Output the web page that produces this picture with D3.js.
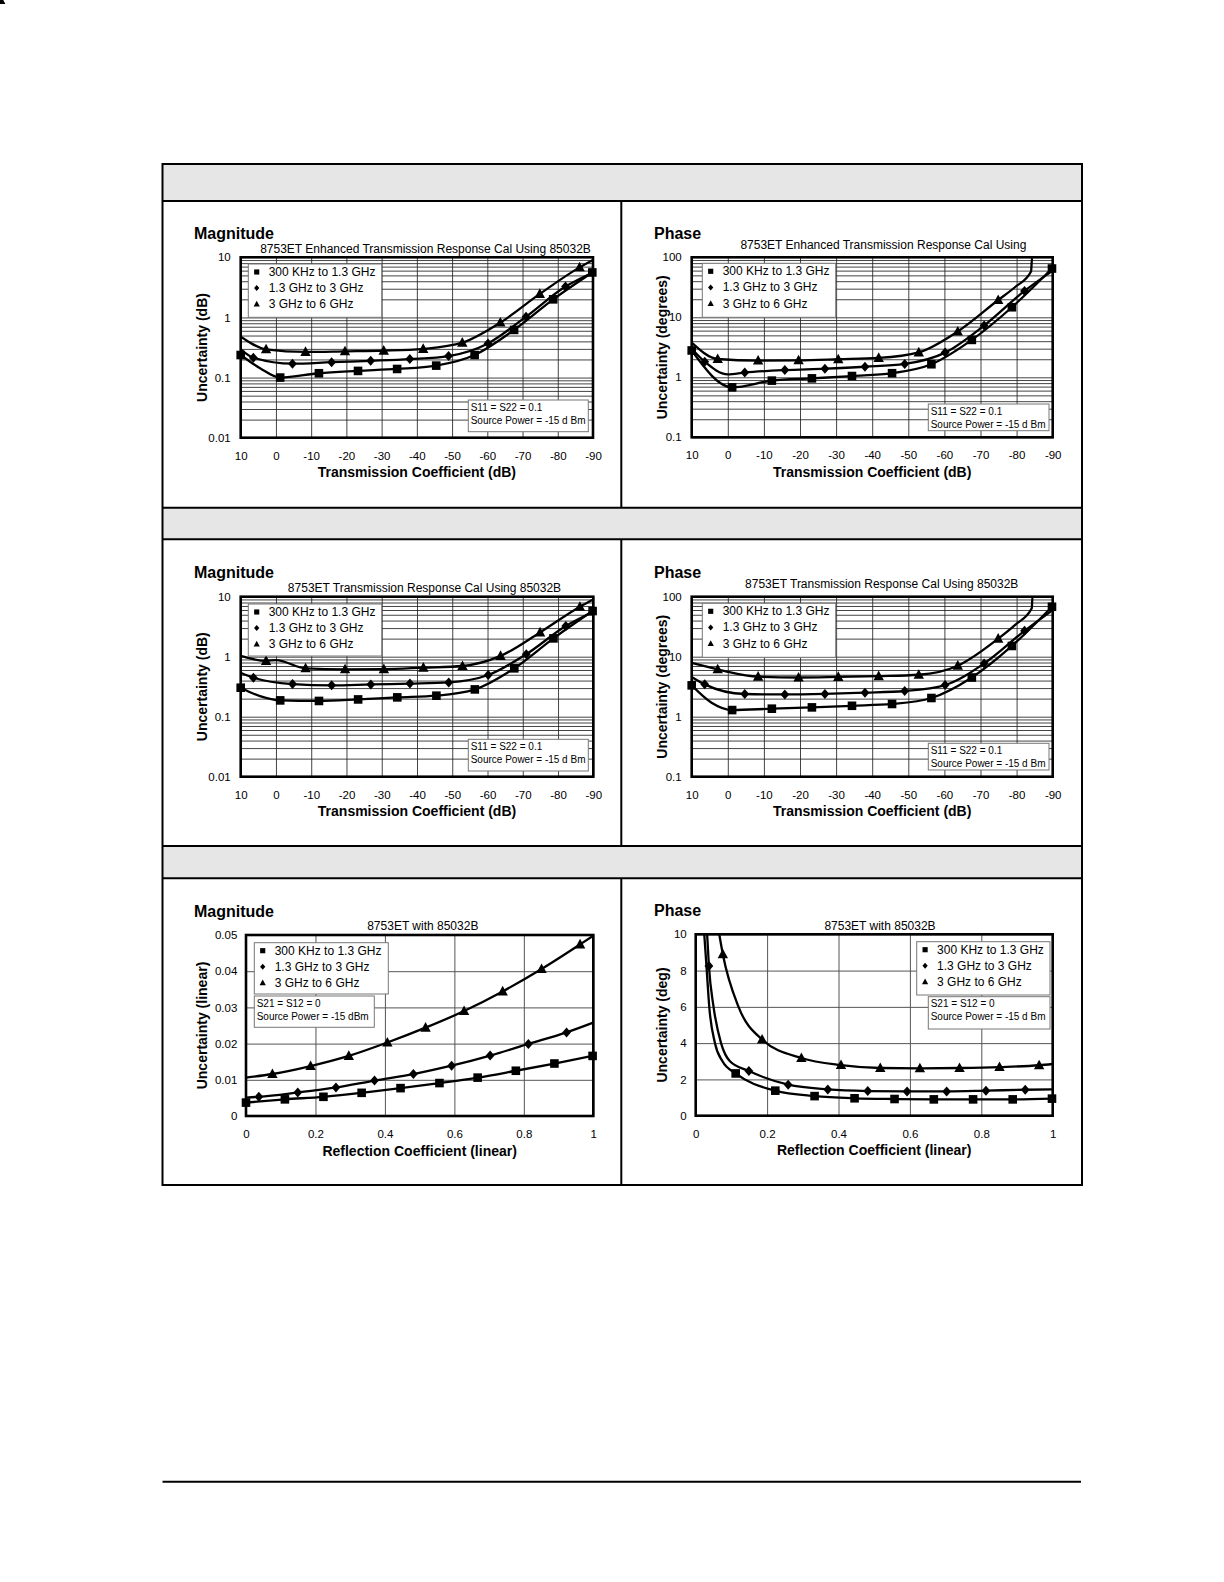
<!DOCTYPE html>
<html>
<head>
<meta charset="utf-8">
<script src="https://cdn.jsdelivr.net/npm/d3@7"></script>
<style>
  body { margin: 0; background: #fff; }
  svg { display: block; font-family: "Liberation Sans", Arial, sans-serif; }
</style>
</head>
<body>
<script>
// ---- data ----
const seriesNames = ["300 KHz to 1.3 GHz", "1.3 GHz to 3 GHz", "3 GHz to 6 GHz"];

const transTicks = [10, 0, -10, -20, -30, -40, -50, -60, -70, -80, -90];
const magLogTicks = [0.01, 0.1, 1, 10];
const phaseLogTicks = [0.1, 1, 10, 100];
const reflTicks = [0, 0.2, 0.4, 0.6, 0.8, 1];
const reflMagTicks = [0, 0.01, 0.02, 0.03, 0.04, 0.05];
const reflPhaseTicks = [0, 2, 4, 6, 8, 10];

// marker positions on the transmission axis (dB)
const transSqX = [10, -1.2, -12.2, -23.3, -34.4, -45.5, -56.4, -67.6, -78.7, -89.8];
const transDiX = [6.4, -4.7, -15.8, -26.9, -38, -49, -60.2, -71, -82.2];
const transTrX = [2.8, -8.4, -19.6, -30.6, -41.8, -52.9, -63.7, -74.9, -86.2];

// marker positions on the reflection axis (linear)
const reflSqX = [0, 0.112, 0.223, 0.333, 0.445, 0.557, 0.667, 0.777, 0.888, 0.998];
const reflDiX = [0.037, 0.149, 0.259, 0.37, 0.482, 0.592, 0.703, 0.813, 0.923];
const reflTrX = [0.076, 0.186, 0.296, 0.407, 0.517, 0.628, 0.739, 0.851, 0.962];

// enhanced transmission response cal, magnitude (dB)
const enhMagSq = [0.237, 0.100, 0.118, 0.129, 0.139, 0.158, 0.237, 0.62, 2.0, 5.6];
const enhMagDi = [0.214, 0.170, 0.18, 0.19, 0.203, 0.228, 0.37, 1.03, 3.26];
const enhMagTr = [0.295, 0.267, 0.273, 0.28, 0.30, 0.38, 0.82, 2.46, 6.8];
const enhMagSqEnds = [[4.5, 0.143]];
const enhMagDiEnds = [[10, 0.295], [-90, 5.6]];
const enhMagTrEnds = [[10, 0.48], [-90, 9.0]];

// enhanced transmission response cal, phase (degrees)
const enhPhSq = [2.8, 0.68, 0.88, 0.96, 1.05, 1.17, 1.65, 4.2, 14.7, 65];
const enhPhDi = [1.82, 1.2, 1.32, 1.39, 1.5, 1.67, 2.58, 7.3, 27.5];
const enhPhTr = [2.02, 1.9, 1.92, 2.0, 2.1, 2.6, 5.8, 19.4];
const enhPhSqEnds = [];
const enhPhDiEnds = [[10, 3.0], [0, 1.12], [-90, 60]];
const enhPhTrEnds = [[10, 3.8], [-79.6, 32], [-84.0, 58], [-84.3, 100]];

// transmission response cal, magnitude (dB)
const trMagSq = [0.304, 0.187, 0.183, 0.194, 0.21, 0.224, 0.285, 0.64, 2.02, 5.77];
const trMagDi = [0.447, 0.35, 0.333, 0.345, 0.356, 0.373, 0.495, 1.1, 3.24];
const trMagTr = [0.85, 0.64, 0.615, 0.62, 0.656, 0.70, 1.03, 2.54, 6.8];
const trMagSqEnds = [[4.5, 0.22]];
const trMagDiEnds = [[10, 0.54], [-90, 5.6]];
const trMagTrEnds = [[10, 1.03], [0, 0.88], [-90, 9.0]];

// transmission response cal, phase (degrees)
const trPhSq = [3.33, 1.29, 1.36, 1.43, 1.52, 1.63, 2.05, 4.5, 15.1, 68];
const trPhDi = [3.46, 2.39, 2.35, 2.4, 2.51, 2.68, 3.37, 7.7, 27];
const trPhTr = [6.15, 4.64, 4.5, 4.6, 4.74, 5.0, 7.08, 20];
const trPhSqEnds = [[4.5, 1.71]];
const trPhDiEnds = [[10, 4.6], [-90, 60]];
const trPhTrEnds = [[10, 7.9], [0, 5.6], [-79.6, 34], [-84.2, 64], [-84.4, 100]];

// reflection, magnitude (linear)
const rfMagSq = [0.0037, 0.0046, 0.0053, 0.0064, 0.0077, 0.0091, 0.0106, 0.0125, 0.0145, 0.0166];
const rfMagDi = [0.0053, 0.0065, 0.0079, 0.0098, 0.0116, 0.0139, 0.0167, 0.0199, 0.0231];
const rfMagTr = [0.0116, 0.0138, 0.0166, 0.0203, 0.0244, 0.029, 0.0344, 0.0406, 0.0474];
const rfMagSqEnds = [];
const rfMagDiEnds = [[0, 0.0051], [1, 0.0258]];
const rfMagTrEnds = [[0, 0.0106], [1, 0.0498]];

// reflection, phase (deg) - no square marker at 0
const rfPhSq = [2.33, 1.38, 1.08, 0.96, 0.92, 0.90, 0.90, 0.90, 0.94];
const rfPhDi = [8.25, 2.46, 1.71, 1.45, 1.36, 1.34, 1.34, 1.38, 1.43];
const rfPhTr = [8.9, 4.2, 3.18, 2.79, 2.63, 2.61, 2.63, 2.68, 2.78];
const rfPhSqEnds = [[0.024, 10], [0.031, 8], [0.038, 6], [0.054, 4], [0.075, 3]];
const rfPhDiEnds = [[0.032, 10], [0.05, 6], [0.071, 4], [0.096, 3], [1, 1.45]];
const rfPhTrEnds = [[0.066, 10], [0.12, 6], [1, 2.85]];

// ---- page ----
const W = 1224, H = 1582;
const svg = d3.select('body').append('svg')
  .attr('width', W)
  .attr('height', H);

svg.append('rect').attr('width', W).attr('height', H).attr('fill', '#fff');

const page = svg.append('g').attr('class', 'page');
const boxL = 162.5, boxR = 1082, boxT = 164, boxB = 1185;
const bands = [[164, 201], [507.7, 539.3], [846, 878.3]];
const divX = 621.3;

bands.forEach(b => {
  page.append('rect')
    .attr('x', boxL).attr('y', b[0])
    .attr('width', boxR - boxL).attr('height', b[1] - b[0])
    .attr('fill', '#e6e6e6');
  page.append('line').attr('x1', boxL).attr('x2', boxR).attr('y1', b[0]).attr('y2', b[0])
    .attr('stroke', '#000').attr('stroke-width', 2);
  page.append('line').attr('x1', boxL).attr('x2', boxR).attr('y1', b[1]).attr('y2', b[1])
    .attr('stroke', '#000').attr('stroke-width', 2);
});
// divider between magnitude and phase
[[bands[0][1], bands[1][0]], [bands[1][1], bands[2][0]], [bands[2][1], boxB]].forEach(s => {
  page.append('line').attr('x1', divX).attr('x2', divX).attr('y1', s[0]).attr('y2', s[1])
    .attr('stroke', '#000').attr('stroke-width', 2);
});
page.append('rect')
  .attr('x', boxL).attr('y', boxT)
  .attr('width', boxR - boxL).attr('height', boxB - boxT)
  .attr('fill', 'none').attr('stroke', '#000').attr('stroke-width', 2);

page.append('line')
  .attr('x1', boxL).attr('x2', 1081).attr('y1', 1481.7).attr('y2', 1481.7)
  .attr('stroke', '#000').attr('stroke-width', 2);

// ---- marker shapes ----
const shapes = {
  square: s => `M${-4.3*s},${-4.3*s}h${8.6*s}v${8.6*s}h${-8.6*s}Z`,
  diamond: s => `M0,${-5*s}L${4.4*s},0L0,${5*s}L${-4.4*s},0Z`,
  triangle: s => `M0,${-5.6*s}L${5.2*s},${4*s}L${-5.2*s},${4*s}Z`
};

function mkSeries(xs, ys, ends) {
  return [
    { sym: 'square', x: xs[0], y: ys[0], ends: ends[0] },
    { sym: 'diamond', x: xs[1], y: ys[1], ends: ends[1] },
    { sym: 'triangle', x: xs[2], y: ys[2], ends: ends[2] }
  ];
}
const transX = [transSqX, transDiX, transTrX];
const noteTrans = ["S11 = S22 = 0.1", "Source Power = -15 d Bm"];

const panels = [
  { box: [240.7, 257.3, 593, 437.7], kind: 'trans', log: true, yDomain: [0.01, 10], yTicks: magLogTicks,
    heading: 'Magnitude', headX: 194, title: '8753ET Enhanced Transmission Response Cal Using 85032B',
    titleX: 425.5, titleY: 252.7, yTitle: 'Uncertainty (dB)', yTitleX: 201.7, yLabelX: 230.7,
    legend: [248.3, 264, 133.4, 53.3], note: [468.3, 400, 120, 31.7], noteText: noteTrans,
    series: mkSeries(transX, [enhMagSq, enhMagDi, enhMagTr], [enhMagSqEnds, enhMagDiEnds, enhMagTrEnds]) },
  { box: [691.7, 257.3, 1052.7, 437.3], kind: 'trans', log: true, yDomain: [0.1, 100], yTicks: phaseLogTicks,
    heading: 'Phase', headX: 654, title: '8753ET Enhanced Transmission Response Cal Using',
    titleX: 883.4, titleY: 249, yTitle: 'Uncertainty (degrees)', yTitleX: 661.7, yLabelX: 681.7,
    legend: [702.3, 263.3, 133.4, 54], note: [928.3, 404, 120.7, 26.7], noteText: noteTrans,
    series: mkSeries(transX, [enhPhSq, enhPhDi, enhPhTr], [enhPhSqEnds, enhPhDiEnds, enhPhTrEnds]) },
  { box: [240.7, 596.7, 593.3, 776.7], kind: 'trans', log: true, yDomain: [0.01, 10], yTicks: magLogTicks,
    heading: 'Magnitude', headX: 194, title: '8753ET Transmission Response Cal Using 85032B',
    titleX: 424.5, titleY: 591.7, yTitle: 'Uncertainty (dB)', yTitleX: 201.7, yLabelX: 230.7,
    legend: [248.3, 604, 133.4, 52], note: [468.3, 739.3, 120, 31.7], noteText: noteTrans,
    series: mkSeries(transX, [trMagSq, trMagDi, trMagTr], [trMagSqEnds, trMagDiEnds, trMagTrEnds]) },
  { box: [691.7, 596.7, 1052.7, 776.7], kind: 'trans', log: true, yDomain: [0.1, 100], yTicks: phaseLogTicks,
    heading: 'Phase', headX: 654, title: '8753ET  Transmission Response Cal Using 85032B',
    titleX: 881.7, titleY: 588.3, yTitle: 'Uncertainty (degrees)', yTitleX: 661.7, yLabelX: 681.7,
    legend: [702.3, 603.3, 133.4, 54], note: [928.3, 743.3, 120.7, 26.7], noteText: noteTrans,
    series: mkSeries(transX, [trPhSq, trPhDi, trPhTr], [trPhSqEnds, trPhDiEnds, trPhTrEnds]) },
  { box: [246, 935, 593.3, 1116], kind: 'refl', log: false, yDomain: [0, 0.05], yTicks: reflMagTicks,
    heading: 'Magnitude', headX: 194, title: '8753ET with 85032B',
    titleX: 422.8, titleY: 930, yTitle: 'Uncertainty (linear)', yTitleX: 201.7, yLabelX: 237.3,
    legend: [254.3, 942.7, 134, 51.3], note: [254.3, 996, 120, 31.3],
    noteText: ["S21 = S12 = 0", "Source Power = -15 dBm"],
    series: mkSeries([reflSqX, reflDiX, reflTrX], [rfMagSq, rfMagDi, rfMagTr], [rfMagSqEnds, rfMagDiEnds, rfMagTrEnds]) },
  { box: [695.7, 934.3, 1052.7, 1115.7], kind: 'refl', log: false, yDomain: [0, 10], yTicks: reflPhaseTicks,
    heading: 'Phase', headX: 654, title: '8753ET with 85032B',
    titleX: 880, titleY: 930, yTitle: 'Uncertainty (deg)', yTitleX: 661.7, yLabelX: 686.7,
    legend: [916.7, 941.7, 133.3, 53.3], note: [928.3, 996.7, 121.7, 32.3],
    noteText: ["S21 = S12 = 0", "Source Power = -15 d Bm"],
    series: mkSeries([reflSqX.slice(1), reflDiX, reflTrX], [rfPhSq, rfPhDi, rfPhTr], [rfPhSqEnds, rfPhDiEnds, rfPhTrEnds]) }
];

panels.forEach((p, i) => drawPanel(p, i));

function drawPanel(p, idx) {
  const [l, t, r, b] = p.box;
  const g = svg.append('g').attr('class', 'panel');

  const x = p.kind === 'trans'
    ? d3.scaleLinear().domain([10, -90]).range([l, r])
    : d3.scaleLinear().domain([0, 1]).range([l, r]);
  const y = p.log
    ? d3.scaleLog().domain(p.yDomain).range([b, t])
    : d3.scaleLinear().domain(p.yDomain).range([b, t]);
  const xTicks = p.kind === 'trans' ? transTicks : reflTicks;

  // grid
  let yGrid = p.yTicks;
  if (p.log) {
    yGrid = [];
    for (let e = Math.log10(p.yDomain[0]); e < Math.log10(p.yDomain[1]); e++) {
      for (let k = 1; k < 10; k++) yGrid.push(+(k * Math.pow(10, e)).toPrecision(3));
    }
  }
  const gridCol = p.log ? '#222' : '#555';
  g.append('g')
    .attr('transform', `translate(${l},0)`)
    .call(d3.axisLeft(y).tickValues(yGrid).tickSize(-(r - l)).tickFormat(''))
    .call(s => s.select('.domain').remove())
    .call(s => s.selectAll('line').attr('stroke', gridCol).attr('stroke-width', p.log ? 0.85 : 1));
  g.append('g')
    .attr('transform', `translate(0,${b})`)
    .call(d3.axisBottom(x).tickValues(xTicks).tickSize(-(b - t)).tickFormat(''))
    .call(s => s.select('.domain').remove())
    .call(s => s.selectAll('line').attr('stroke', gridCol).attr('stroke-width', p.log ? 0.85 : 1));

  // curves
  const clipId = 'clip' + idx;
  g.append('clipPath').attr('id', clipId)
    .append('rect').attr('x', l).attr('y', t).attr('width', r - l).attr('height', b - t);

  const line = d3.line().curve(d3.curveMonotoneX);
  p.series.forEach(s => {
    const pts = s.x.map((xv, i) => [xv, s.y[i]]).concat(s.ends)
      .map(d => [x(d[0]), y(d[1])])
      .sort((a, c) => a[0] - c[0]);
    g.append('path')
      .attr('clip-path', `url(#${clipId})`)
      .attr('d', line(pts))
      .attr('fill', 'none')
      .attr('stroke', '#000')
      .attr('stroke-width', 2.3);
  });
  p.series.forEach(s => {
    g.append('g').selectAll('path')
      .data(s.x.map((xv, i) => [xv, s.y[i]]))
      .join('path')
      .attr('transform', d => `translate(${x(d[0])},${y(d[1])})`)
      .attr('d', shapes[s.sym](1))
      .attr('fill', '#000');
  });

  // frame
  g.append('rect')
    .attr('x', l).attr('y', t).attr('width', r - l).attr('height', b - t)
    .attr('fill', 'none').attr('stroke', '#000').attr('stroke-width', 2.6);

  // tick labels
  g.append('g')
    .attr('transform', `translate(${p.yLabelX},0)`)
    .call(d3.axisLeft(y).tickValues(p.yTicks).tickSize(0).tickPadding(0).tickFormat(d => String(d)))
    .call(s => s.select('.domain').remove())
    .call(s => s.selectAll('text').attr('font-size', 11.5).attr('fill', '#000')
      .attr('font-family', '"Liberation Sans", Arial, sans-serif'));
  g.append('g')
    .attr('transform', `translate(0,${b})`)
    .call(d3.axisBottom(x).tickValues(xTicks).tickSize(0).tickPadding(0).tickFormat(d => String(d)))
    .call(s => s.select('.domain').remove())
    .call(s => s.selectAll('text').attr('font-size', 11.5).attr('fill', '#000').attr('dy', null).attr('y', 22)
      .attr('font-family', '"Liberation Sans", Arial, sans-serif'));

  // legend
  const [lx, ly, lw, lh] = p.legend;
  const leg = g.append('g');
  leg.append('rect').attr('x', lx).attr('y', ly).attr('width', lw).attr('height', lh)
    .attr('fill', '#fff').attr('stroke', '#777').attr('stroke-width', 1);
  p.series.forEach((s, i) => {
    const by = ly + 12 + i * 16.1;
    leg.append('path')
      .attr('transform', `translate(${lx + 8.4},${by - 4})`)
      .attr('d', shapes[s.sym](0.6))
      .attr('fill', '#000');
    leg.append('text')
      .attr('x', lx + 20.4).attr('y', by)
      .attr('font-size', 12)
      .text(seriesNames[i]);
  });

  // note box
  const [nx, ny, nw, nh] = p.note;
  g.append('rect').attr('x', nx).attr('y', ny).attr('width', nw).attr('height', nh)
    .attr('fill', '#fff').attr('stroke', '#777').attr('stroke-width', 1);
  p.noteText.forEach((tx, i) => {
    g.append('text')
      .attr('x', nx + 2.4).attr('y', ny + 10.7 + i * 12.8)
      .attr('font-size', 10)
      .text(tx);
  });

  // headings and titles
  g.append('text').attr('x', p.headX).attr('y', t - 18.5)
    .attr('font-size', 16).attr('font-weight', 'bold').text(p.heading);
  g.append('text').attr('x', p.titleX).attr('y', p.titleY)
    .attr('font-size', 12).attr('text-anchor', 'middle').text(p.title);
  g.append('text').attr('x', (l + r) / 2).attr('y', b + 39.6)
    .attr('font-size', 14).attr('font-weight', 'bold').attr('text-anchor', 'middle')
    .text(p.kind === 'trans' ? 'Transmission Coefficient (dB)' : 'Reflection Coefficient (linear)');
  g.append('text')
    .attr('transform', `translate(${p.yTitleX},${(t + b) / 2}) rotate(-90)`)
    .attr('dy', '0.35em')
    .attr('font-size', 14).attr('font-weight', 'bold').attr('text-anchor', 'middle')
    .text(p.yTitle);
}
</script>
</body>
</html>
